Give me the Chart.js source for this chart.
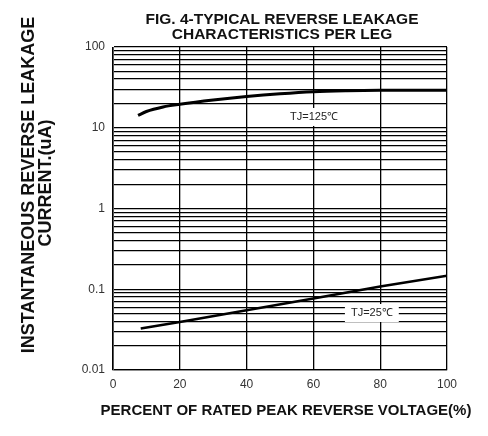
<!DOCTYPE html>
<html>
<head>
<meta charset="utf-8">
<script src="https://cdn.jsdelivr.net/npm/chart.js@4.4.1/dist/chart.umd.min.js"></script>
<style>
  html, body { margin: 0; padding: 0; background: #fff; }
  #wrap { width: 488px; height: 436px; }
</style>
</head>
<body>
<div id="wrap"><canvas id="c" width="488" height="436"></canvas></div>
<script>
// ---- data ----
const titleLines = ['FIG. 4-TYPICAL REVERSE LEAKAGE', 'CHARACTERISTICS PER LEG'];
const xTitle = 'PERCENT OF RATED PEAK REVERSE VOLTAGE(%)';
const yTitleLines = ['INSTANTANEOUS REVERSE LEAKAGE', 'CURRENT.(uA)'];

const xTicks = [0, 20, 40, 60, 80, 100];
const yMajorTicks = [0.01, 0.1, 1, 10, 100];
const yTickLabels = ['0.01', '0.1', '1', '10', '100'];
const yGridValues = [
  0.01, 0.02, 0.03, 0.04, 0.05, 0.06, 0.07, 0.08, 0.09,
  0.1, 0.2, 0.3, 0.4, 0.5, 0.6, 0.7, 0.8, 0.9,
  1, 2, 3, 4, 5, 6, 7, 8, 9,
  10, 20, 30, 40, 50, 60, 70, 80, 90,
  100
];

// Tj = 125 C curve
const tj125X = [7.5, 10, 15, 20, 30, 40, 50, 60, 70, 80, 90, 100];
const tj125Y = [14.2, 15.9, 18.1, 19.5, 22.0, 24.3, 26.3, 27.9, 28.7, 29.1, 29.2, 29.2];

// Tj = 25 C line
const tj25X = [8.3, 20, 40, 60, 80, 100];
const tj25Y = [0.0326, 0.0394, 0.055, 0.077, 0.108, 0.147];

// curve labels (data coordinates)
const labelText = ['TJ=125\u2103', 'TJ=25\u2103'];
const labelX = [60.2, 77.5];
const labelY = [13.6, 0.0508];

const textPlugin = {
  id: 'texts',
  afterDraw(chart) {
    const ctx = chart.ctx;
    const a = chart.chartArea;
    const xs = chart.scales.x, ys = chart.scales.y;
    ctx.save();
    // curve labels with white boxes
    ctx.font = '11px "Liberation Sans", Arial, sans-serif';
    ctx.textAlign = 'center';
    ctx.textBaseline = 'middle';
    for (let i = 0; i < labelText.length; i++) {
      const px = xs.getPixelForValue(labelX[i]);
      const py = ys.getPixelForValue(labelY[i]);
      const w = ctx.measureText(labelText[i]).width;
      ctx.fillStyle = '#fff';
      ctx.fillRect(px - w / 2 - 6, py - 9, w + 12, 18);
      ctx.fillStyle = '#222';
      ctx.fillText(labelText[i], px, py);
    }
    // main title
    ctx.fillStyle = '#111';
    ctx.font = 'bold 15.5px "Liberation Sans", Arial, sans-serif';
    const cx = (a.left + a.right) / 2 + 2;
    ctx.fillText(titleLines[0], cx, a.top - 27);
    ctx.fillText(titleLines[1], cx, a.top - 12);
    // x title
    ctx.font = 'bold 15px "Liberation Sans", Arial, sans-serif';
    ctx.fillText(xTitle, cx + 4, a.bottom + 41);
    // y title
    ctx.font = 'bold 18px "Liberation Sans", Arial, sans-serif';
    ctx.translate(0, 185);
    ctx.rotate(-Math.PI / 2);
    ctx.fillText(yTitleLines[0], 0, 29);
    ctx.fillText(yTitleLines[1], 2, 46);
    ctx.restore();
  }
};

new Chart(document.getElementById('c'), {
  type: 'line',
  data: {
    datasets: [
      {
        label: 'TJ=125',
        data: tj125X.map((x, i) => ({ x, y: tj125Y[i] })),
        borderColor: '#000',
        borderWidth: 3,
        pointRadius: 0,
        cubicInterpolationMode: 'monotone',
        fill: false
      },
      {
        label: 'TJ=25',
        data: tj25X.map((x, i) => ({ x, y: tj25Y[i] })),
        borderColor: '#000',
        borderWidth: 2.6,
        pointRadius: 0,
        tension: 0,
        fill: false
      }
    ]
  },
  options: {
    responsive: false,
    animation: false,
    devicePixelRatio: 1,
    layout: { padding: { top: 47, right: 41, left: 0, bottom: 0 } },
    plugins: { legend: { display: false }, tooltip: { enabled: false }, title: { display: false } },
    scales: {
      x: {
        type: 'linear',
        min: 0, max: 100,
        afterBuildTicks: (s) => { s.ticks = xTicks.map(v => ({ value: v })); },
        afterFit: (s) => { s.height = 66; },
        grid: { color: '#000', lineWidth: 1.3, drawTicks: false },
        border: { display: true, color: '#000', width: 1.3 },
        ticks: {
          autoSkip: false, maxRotation: 0, padding: 7,
          color: '#333',
          font: { family: '"Liberation Sans", Arial, sans-serif', size: 12 }
        }
      },
      y: {
        type: 'logarithmic',
        min: 0.01, max: 100,
        afterBuildTicks: (s) => {
          s.ticks = yGridValues.map(v => ({ value: v, major: yMajorTicks.includes(v) }));
        },
        afterFit: (s) => { s.width = 113; },
        grid: { color: '#000', lineWidth: 1.3, drawTicks: false },
        border: { display: true, color: '#555', width: 1 },
        ticks: {
          autoSkip: false, padding: 8,
          color: '#333',
          font: { family: '"Liberation Sans", Arial, sans-serif', size: 12 },
          callback: (v) => {
            const k = yMajorTicks.findIndex(m => Math.abs(m - v) < m * 1e-6);
            return k >= 0 ? yTickLabels[k] : '';
          }
        }
      }
    }
  },
  plugins: [textPlugin]
});
</script>
</body>
</html>
